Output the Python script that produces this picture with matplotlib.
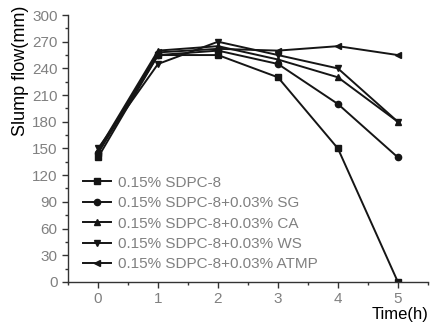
import numpy as np
import matplotlib
matplotlib.use("Agg")
import matplotlib.pyplot as plt
from matplotlib.ticker import MultipleLocator

plt.rcParams['font.family'] = ['Liberation Sans', 'DejaVu Sans']

# slump flow vs time
time_h = [0, 1, 2, 3, 4, 5]
sdpc = [140, 255, 255, 230, 150, 0]
sdpc_sg = [145, 255, 260, 245, 200, 140]
sdpc_ca = [148, 260, 265, 250, 230, 180]
sdpc_ws = [150, 245, 270, 255, 240, 180]
sdpc_atmp = [145, 258, 262, 260, 265, 255]

labels = ["0.15% SDPC-8",
          "0.15% SDPC-8+0.03% SG",
          "0.15% SDPC-8+0.03% CA",
          "0.15% SDPC-8+0.03% WS",
          "0.15% SDPC-8+0.03% ATMP"]
series = [sdpc, sdpc_sg, sdpc_ca, sdpc_ws, sdpc_atmp]
markers = ['s', 'o', '^', 'v', '<']

grey = '#808080'

fig = plt.figure(figsize=(4.48, 3.34), dpi=100)
ax = fig.add_axes([0.152, 0.156, 0.803, 0.799])

for y, m, lab in zip(series, markers, labels):
    ax.plot(time_h, y, color='#151515', lw=1.4, marker=m, ms=4.5, label=lab)

ax.set_xlim(-0.5, 5.5)
ax.set_ylim(0, 300)
ax.xaxis.set_major_locator(MultipleLocator(1))
ax.xaxis.set_minor_locator(MultipleLocator(0.5))
ax.yaxis.set_major_locator(MultipleLocator(30))
ax.yaxis.set_minor_locator(MultipleLocator(15))

for s in ['top', 'right']:
    ax.spines[s].set_visible(False)
for s in ['left', 'bottom']:
    ax.spines[s].set_color('#333333')
    ax.spines[s].set_linewidth(1.0)

ax.tick_params(which='major', length=4, width=1, color='#333333',
               labelcolor=grey, labelsize=11)
ax.tick_params(which='minor', length=2, width=1, color='#333333')

ax.set_ylabel("Slump flow(mm)", fontsize=13, color='black')
ax.yaxis.set_label_coords(-0.108, 0.79)
fig.text(0.957, 0.035, "Time(h)", fontsize=12, ha='right', va='bottom')

leg = ax.legend(loc='lower left', bbox_to_anchor=(0.015, 0.005), frameon=False,
                fontsize=11, handlelength=1.85, handletextpad=0.45,
                labelspacing=0.42, borderaxespad=0.2)
for t in leg.get_texts():
    t.set_color(grey)

fig.savefig("out.png", dpi=100)
